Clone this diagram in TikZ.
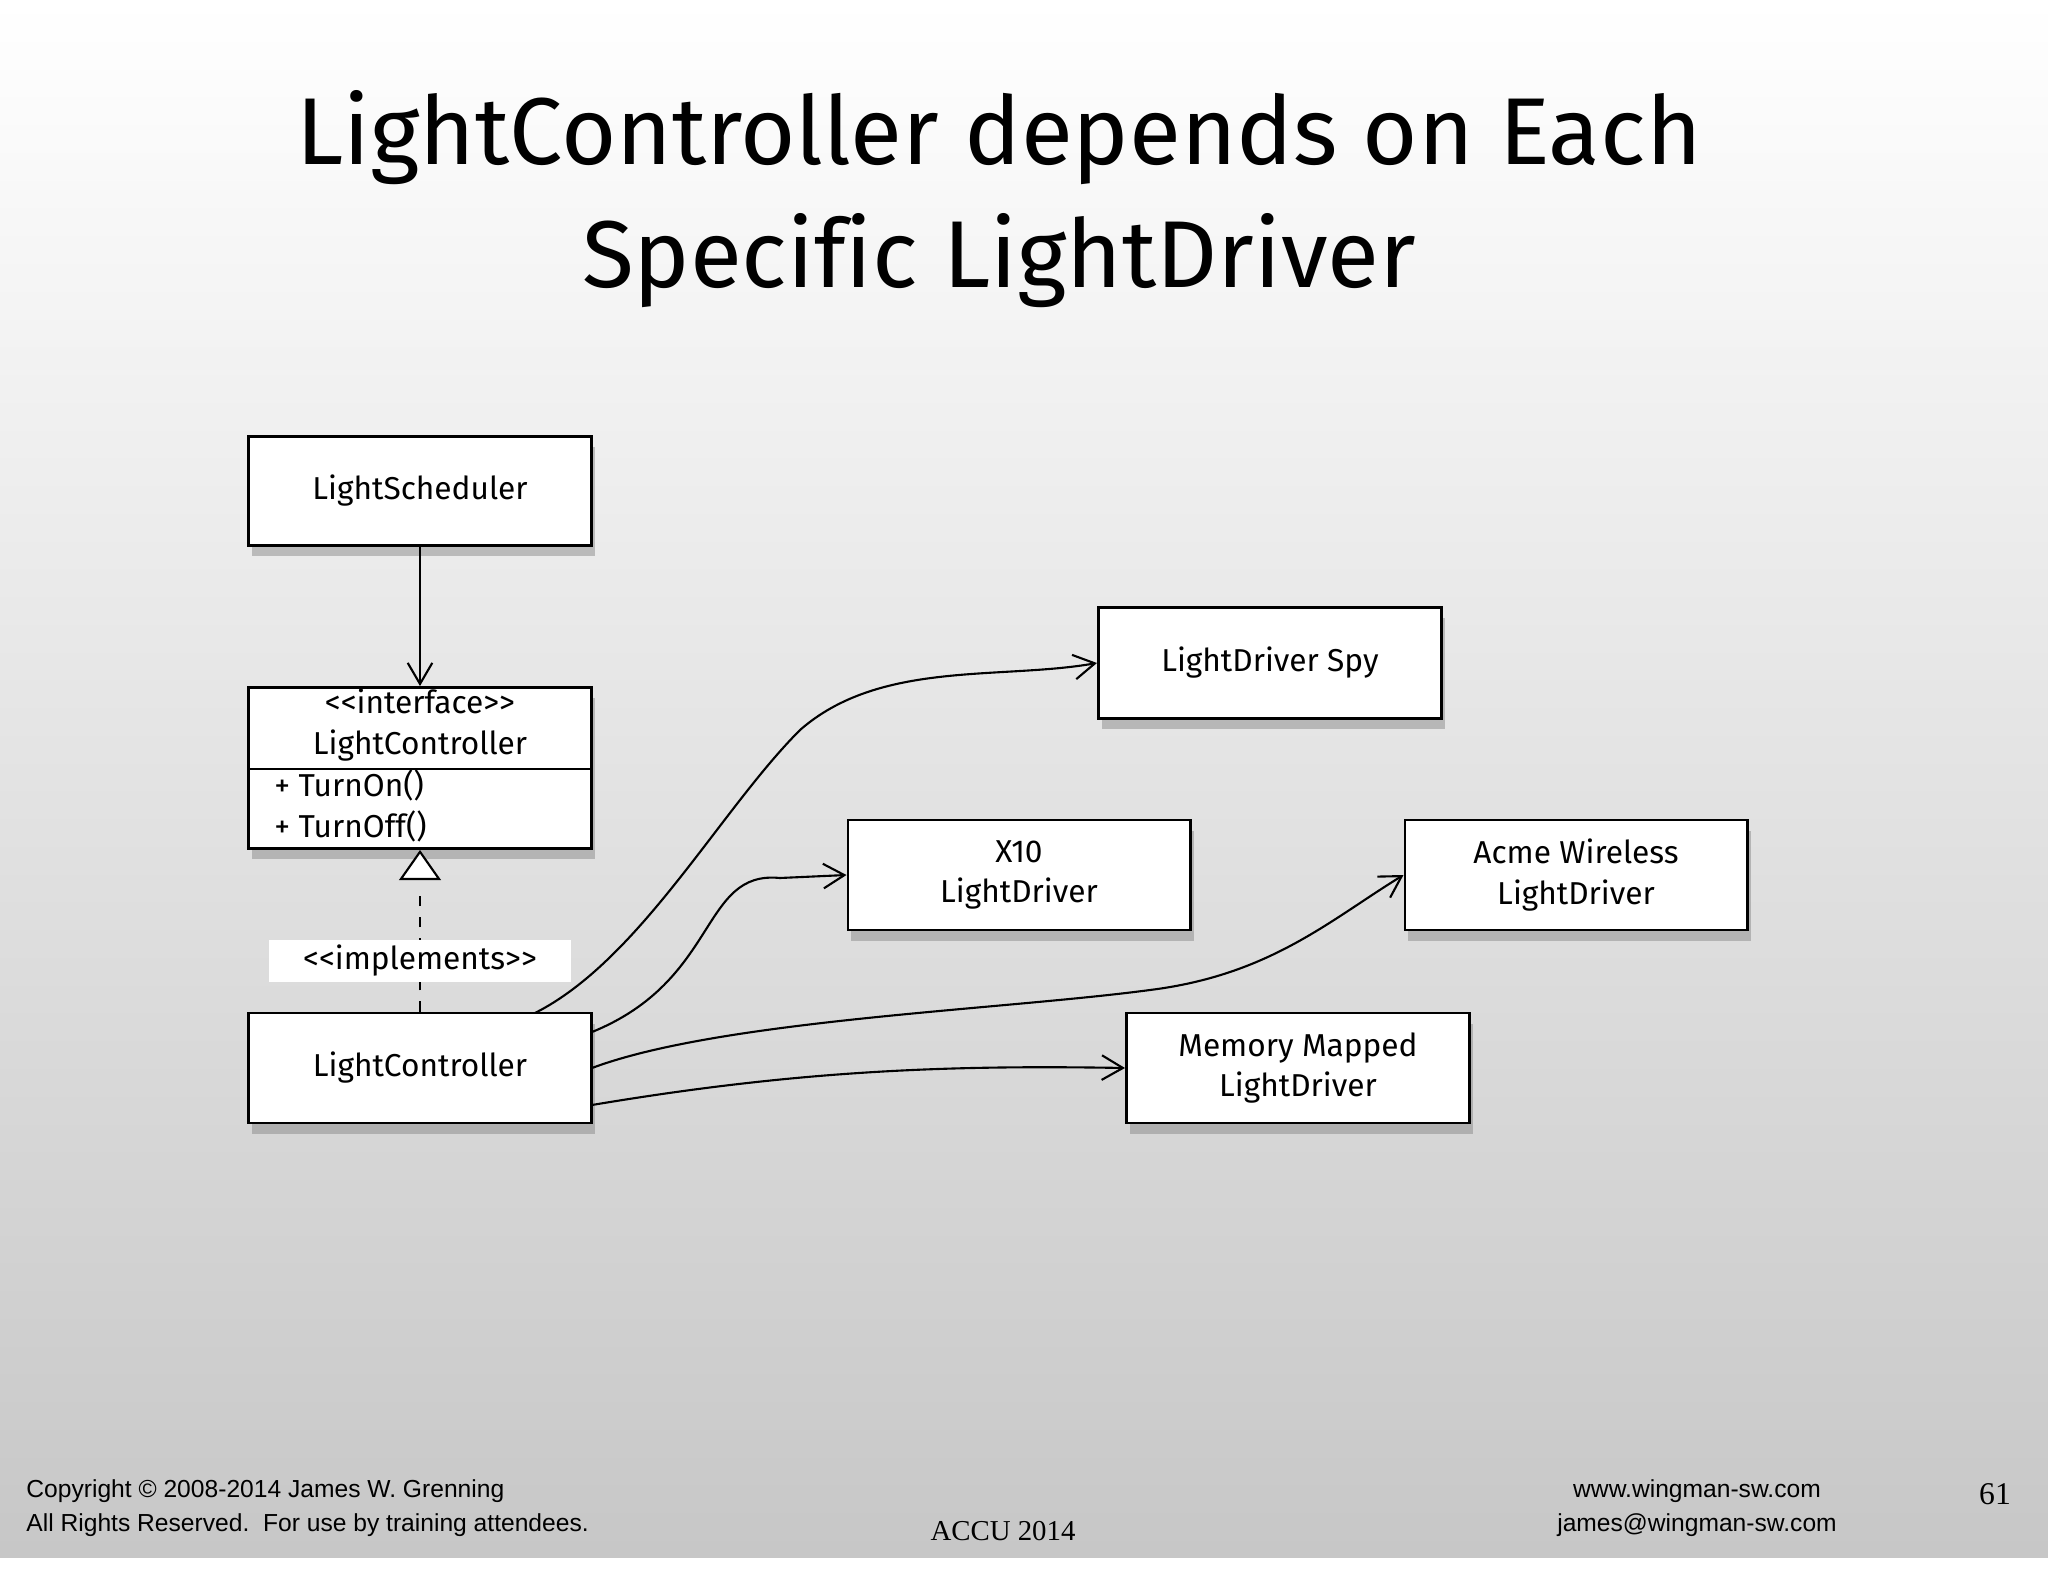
\documentclass[tikz,border=0pt]{standalone}
\usepackage{fontspec}
\setmainfont{Fira Sans}[Ligatures=NoCommon]
\newfontfamily\foot{Liberation Sans}
\newfontfamily\tms{Liberation Serif}
\usetikzlibrary{shadows,arrows.meta,shapes.geometric}
\begin{document}
\begin{tikzpicture}[x=0.01cm,y=-0.01cm,
 box/.style={draw,thick,fill=white,inner sep=0pt,align=center,font=\fontsize{9}{11.5}\selectfont,drop shadow={shadow xshift=1pt,shadow yshift=-3pt,opacity=0.45}},
 dep/.style={-{Straight Barb[length=6pt,width=7pt]},semithick}]
\useasboundingbox (0,0) rectangle (2048,1582);
\fill[white] (0,0) rectangle (2048,1582);
\shade[top color=white,bottom color=black!22] (0,0) rectangle (2048,1557);
\node[font=\fontsize{27}{35}\selectfont,align=center] (title) at (999,199) {LightController depends on Each\\Specific LightDriver};
\node[box,minimum width=3.43cm,minimum height=1.09cm] (sch) at (420,491) {LightScheduler};
\node[box,minimum width=3.43cm,minimum height=1.61cm] (ifc) at (420,768) {};
\draw[thick] (249,769) -- (592,769);
\node[font=\fontsize{9}{11.5}\selectfont,align=center] (ifct) at (420,725) {<{}<interface>{}>\\LightController};
\node[font=\fontsize{9}{11.5}\selectfont,align=left,anchor=west] (ops) at (262,806) {+ TurnOn()\\+ TurnOff()};
\node[box,minimum width=3.43cm,minimum height=1.10cm] (lc) at (420,1068) {LightController};
\node[box,minimum width=3.43cm,minimum height=1.11cm] (spy) at (1270,663) {LightDriver Spy};
\node[box,minimum width=3.42cm,minimum height=1.10cm] (x10) at (1019,875) {X10\\LightDriver};
\node[box,minimum width=3.42cm,minimum height=1.10cm] (acme) at (1576,875) {Acme Wireless\\LightDriver};
\node[box,minimum width=3.43cm,minimum height=1.10cm] (mem) at (1298,1068) {Memory Mapped\\LightDriver};
\draw[dep] (sch.south) -- (ifc.north);
\coordinate (tri) at (420,885);
\draw[dashed,semithick] (lc.north) -- (tri);
\node[draw,semithick,fill=white,isosceles triangle,shape border rotate=90,isosceles triangle apex angle=70,minimum width=0.38cm,inner sep=0pt,anchor=apex] (tr) at (ifc.south) {};
\node[fill=white,minimum width=3.01cm,minimum height=0.42cm,inner sep=0pt,font=\fontsize{9}{11}\selectfont] (impl) at (420,961) {<{}<implements>{}>};
\coordinate (a1) at (535,1013);
\draw[dep] (a1) .. controls (640,960) and (720,810) .. (800,730) .. controls (880,660) and (1000,680) .. (spy.west);
\coordinate (a2) at (592,1032);
\draw[dep] (a2) .. controls (720,980) and (700,870) .. (780,878) -- (x10.west);
\coordinate (a3) at (592,1068);
\draw[dep] (a3) .. controls (720,1020) and (1000,1010) .. (1150,990) .. controls (1270,975) and (1330,920) .. (acme.west);
\coordinate (a4) at (592,1105);
\draw[dep] (a4) .. controls (800,1070) and (950,1065) .. (mem.west);
\node[font=\foot\fontsize{7}{9.5}\selectfont,align=left,anchor=west] (cp) at (14,1508) {Copyright © 2008-2014 James W. Grenning\\All Rights Reserved.\ \ For use by training attendees.};
\node[font=\tms\fontsize{8.2}{10}\selectfont] (accu) at (1003,1531) {ACCU 2014};
\node[font=\foot\fontsize{7}{9.5}\selectfont,align=center] (web) at (1697,1508) {www.wingman-sw.com\\james@wingman-sw.com};
\node[font=\tms\fontsize{9}{10}\selectfont] (pg) at (1995,1494) {61};
\end{tikzpicture}
\end{document}
